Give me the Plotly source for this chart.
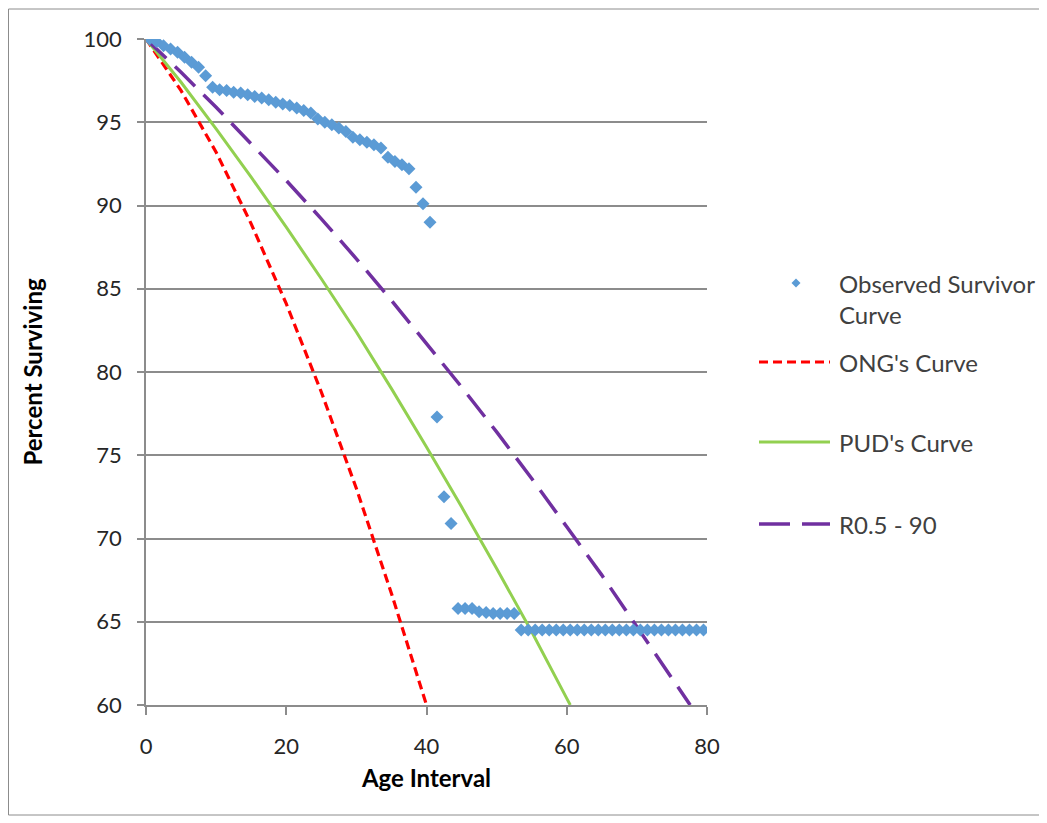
import plotly.graph_objects as go

# ---------------- data ----------------
obs_age = [0.5, 1.5, 2.5, 3.5, 4.5, 5.5, 6.5, 7.5, 8.5, 9.5,
           10.5, 11.5, 12.5, 13.5, 14.5, 15.5, 16.5, 17.5, 18.5, 19.5,
           20.5, 21.5, 22.5, 23.5, 24.5, 25.5, 26.5, 27.5, 28.5, 29.5,
           30.5, 31.5, 32.5, 33.5, 34.5, 35.5, 36.5, 37.5, 38.5, 39.5,
           40.5, 41.5, 42.5, 43.5, 44.5, 45.5, 46.5, 47.5, 48.5, 49.5,
           50.5, 51.5, 52.5, 53.5, 54.5, 55.5, 56.5, 57.5, 58.5, 59.5,
           60.5, 61.5, 62.5, 63.5, 64.5, 65.5, 66.5, 67.5, 68.5, 69.5,
           70.5, 71.5, 72.5, 73.5, 74.5, 75.5, 76.5, 77.5, 78.5, 79.5]
obs_pct = [100.0, 99.85, 99.6, 99.4, 99.2, 98.9, 98.6, 98.3, 97.8, 97.1,
           96.95, 96.9, 96.8, 96.75, 96.65, 96.55, 96.45, 96.35, 96.2, 96.1,
           96.0, 95.85, 95.7, 95.55, 95.2, 95.0, 94.85, 94.65, 94.45, 94.1,
           93.95, 93.8, 93.65, 93.45, 92.9, 92.65, 92.45, 92.2, 91.1, 90.1,
           89.0, 77.3, 72.5, 70.9, 65.8, 65.8, 65.8, 65.6, 65.55, 65.5,
           65.5, 65.5, 65.5, 64.5, 64.5, 64.5, 64.5, 64.5, 64.5, 64.5,
           64.5, 64.5, 64.5, 64.5, 64.5, 64.5, 64.5, 64.5, 64.5, 64.5,
           64.5, 64.5, 64.5, 64.5, 64.5, 64.5, 64.5, 64.5, 64.5, 64.5]

ong_age = [0, 5, 10, 15, 20, 25, 30, 35, 40]
ong_pct = [100.0, 96.9, 93.2, 88.9, 84.1, 78.8, 73.0, 66.7, 60.0]

pud_age = [0, 5, 10, 15, 20, 25, 30, 35, 40, 45, 50, 55, 60, 60.5]
pud_pct = [100.0, 97.4, 94.6, 91.7, 88.7, 85.6, 82.4, 79.0, 75.5, 71.9, 68.2, 64.4, 60.4, 60.0]

r_age = [0, 5, 10, 15, 20, 25, 30, 35, 40, 45, 50, 55, 60, 65, 70, 75, 77.6]
r_pct = [100.0, 98.0, 95.9, 93.7, 91.5, 89.2, 86.8, 84.3, 81.7, 79.1, 76.4, 73.6, 70.7, 67.8, 64.7, 61.6, 60.0]

x_ticks = [0, 20, 40, 60, 80]
y_ticks = [60, 65, 70, 75, 80, 85, 90, 95, 100]

names = ["Observed Survivor Curve", "ONG's Curve", "PUD's Curve", "R0.5 - 90"]

# ---------------- styles ----------------
BLUE = "#5B9BD5"
RED = "#FF0000"
GREEN = "#92D050"
PURPLE = "#7030A0"
GRID = "#8C8C8C"
TXT = "#262626"
FONT = "Lato, Open Sans, sans-serif"

OFF = 8  # page body margin
W, H = 1047 - OFF, 823 - OFF
# plot area in screen px, converted to figure px
L, R, T, B = 146 - OFF, 707 - OFF, 39 - OFF, 705 - OFF


def px_x(p):
    return (p - OFF - L) / (R - L)


def px_y(p):
    return (B - (p - OFF)) / (B - T)


fig = go.Figure()
fig.add_trace(go.Scatter(x=ong_age, y=ong_pct, mode="lines", name=names[1],
                         line=dict(color=RED, width=3.2, dash="9px,5px"), showlegend=False))
fig.add_trace(go.Scatter(x=pud_age, y=pud_pct, mode="lines", name=names[2],
                         line=dict(color=GREEN, width=3), showlegend=False))
fig.add_trace(go.Scatter(x=r_age, y=r_pct, mode="lines", name=names[3],
                         line=dict(color=PURPLE, width=3.5, dash="28px,12px"), showlegend=False))
fig.add_trace(go.Scatter(x=obs_age, y=obs_pct, mode="markers", name=names[0],
                         marker=dict(symbol="diamond", size=10, color=BLUE), showlegend=False))

shapes = []
annotations = []
# outer chart border
shapes.append(dict(type="rect", xref="paper", yref="paper",
                   x0=px_x(8.5), x1=px_x(1040), y0=px_y(9), y1=px_y(815),
                   line=dict(color="#8C8C8C", width=1), layer="below"))

# manual legend
LX0, LX1, TX = 759, 830, 837
cx, cy, s = 796, 283, 4.5
shapes.append(dict(type="path", xref="paper", yref="paper",
                   path=f"M {px_x(cx - s)},{px_y(cy)} L {px_x(cx)},{px_y(cy - s)} "
                        f"L {px_x(cx + s)},{px_y(cy)} L {px_x(cx)},{px_y(cy + s)} Z",
                   fillcolor=BLUE, line=dict(width=0)))
shapes.append(dict(type="line", xref="paper", yref="paper",
                   x0=px_x(LX0), x1=px_x(LX1), y0=px_y(362), y1=px_y(362),
                   line=dict(color=RED, width=3.2, dash="9px,5px")))
shapes.append(dict(type="line", xref="paper", yref="paper",
                   x0=px_x(LX0), x1=px_x(LX1), y0=px_y(442), y1=px_y(442),
                   line=dict(color=GREEN, width=3)))
shapes.append(dict(type="line", xref="paper", yref="paper",
                   x0=px_x(LX0), x1=px_x(LX1), y0=px_y(524), y1=px_y(524),
                   line=dict(color=PURPLE, width=3.5, dash="31px,12px")))

leg_text = [("Observed Survivor", 283), ("Curve", 314), (names[1], 362),
            (names[2], 442), (names[3], 524)]
for t, yy in leg_text:
    annotations.append(dict(text=t, xref="paper", yref="paper", x=px_x(TX), y=px_y(yy),
                            xanchor="left", yanchor="middle", showarrow=False,
                            font=dict(family=FONT, size=24, color="#404040")))

fig.update_layout(
    width=W, height=H,
    margin=dict(l=L, r=W - R, t=T, b=H - B),
    paper_bgcolor="white", plot_bgcolor="white",
    showlegend=False,
    shapes=shapes, annotations=annotations,
    xaxis=dict(range=[0, 80], tickvals=x_ticks, showgrid=False, zeroline=False,
               showline=True, linecolor=GRID, linewidth=1.5,
               ticks="outside", ticklen=8, tickcolor=GRID, tickwidth=1.5,
               ticklabelstandoff=13,
               tickfont=dict(family=FONT, size=22, color=TXT),
               title=dict(text="<b>Age Interval</b>", standoff=12,
                          font=dict(family=FONT, size=24, color="#000000"))),
    yaxis=dict(range=[60, 100], tickvals=y_ticks, showgrid=True, gridcolor=GRID,
               gridwidth=1.5, zeroline=False,
               showline=True, linecolor=GRID, linewidth=1.5,
               ticks="outside", ticklen=7, tickcolor=GRID, tickwidth=1.5,
               ticklabelstandoff=11,
               tickfont=dict(family=FONT, size=22, color=TXT),
               title=dict(text="<b>Percent Surviving</b>", standoff=34,
                          font=dict(family=FONT, size=24, color="#000000"))),
)

fig.write_html("out.html")
